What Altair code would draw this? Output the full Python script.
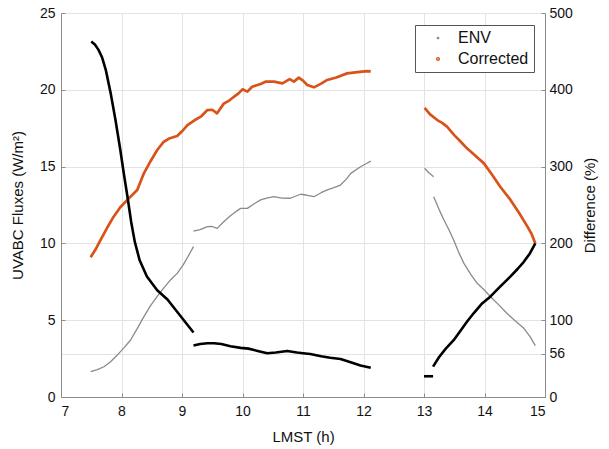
import altair as alt
import pandas as pd

# ---- data ----
# ENV (gray), left axis W/m^2, four segments
env_x1 = [7.49, 7.60, 7.71, 7.82, 7.93, 8.04, 8.15, 8.26, 8.37, 8.48, 8.59, 8.70, 8.81, 8.92, 9.02, 9.10, 9.19]
env_y1 = [1.65, 1.78, 1.97, 2.30, 2.73, 3.20, 3.71, 4.45, 5.23, 5.95, 6.55, 7.10, 7.62, 8.05, 8.60, 9.15, 9.79]
env_x2 = [9.19, 9.30, 9.42, 9.50, 9.58, 9.69, 9.80, 9.90, 9.97, 10.08, 10.20, 10.30, 10.40, 10.52, 10.65, 10.79, 10.96, 11.05, 11.18, 11.30, 11.40, 11.50, 11.62, 11.72, 11.79, 11.95, 12.05, 12.12]
env_y2 = [10.80, 10.90, 11.09, 11.10, 10.98, 11.41, 11.80, 12.10, 12.28, 12.28, 12.60, 12.83, 12.95, 13.04, 12.95, 12.94, 13.20, 13.15, 13.04, 13.30, 13.48, 13.62, 13.80, 14.20, 14.56, 14.99, 15.20, 15.36]
env_x3 = [13.01, 13.08, 13.16]
env_y3 = [14.89, 14.60, 14.34]
env_x4 = [13.16, 13.25, 13.33, 13.41, 13.49, 13.57, 13.66, 13.77, 13.88, 14.00, 14.10, 14.24, 14.37, 14.51, 14.65, 14.75, 14.84]
env_y4 = [13.04, 12.20, 11.52, 10.90, 10.22, 9.45, 8.70, 8.00, 7.40, 6.95, 6.53, 5.98, 5.45, 4.95, 4.47, 3.95, 3.34]

# Corrected (orange), left axis W/m^2, two segments
cor_x1 = [7.49, 7.57, 7.65, 7.76, 7.87, 7.98, 8.12, 8.26, 8.37, 8.48, 8.59, 8.70, 8.80, 8.92, 9.00, 9.09, 9.20, 9.31, 9.42, 9.50, 9.58, 9.69, 9.78, 9.86, 9.93, 10.00, 10.08, 10.16, 10.30, 10.38, 10.52, 10.66, 10.78, 10.85, 10.93, 11.00, 11.07, 11.18, 11.30, 11.40, 11.55, 11.73, 11.90, 12.06, 12.12]
cor_y1 = [9.10, 9.60, 10.20, 11.00, 11.74, 12.35, 12.93, 13.48, 14.56, 15.35, 16.08, 16.62, 16.85, 16.99, 17.30, 17.70, 18.00, 18.25, 18.68, 18.70, 18.47, 19.10, 19.30, 19.55, 19.75, 20.03, 19.88, 20.20, 20.38, 20.53, 20.53, 20.42, 20.70, 20.53, 20.79, 20.60, 20.31, 20.16, 20.40, 20.64, 20.80, 21.07, 21.15, 21.22, 21.20]
cor_x2 = [13.01, 13.10, 13.22, 13.30, 13.38, 13.50, 13.60, 13.71, 13.85, 13.99, 14.12, 14.26, 14.43, 14.57, 14.71, 14.78, 14.84]
cor_y2 = [18.83, 18.40, 18.03, 17.85, 17.60, 17.05, 16.65, 16.19, 15.70, 15.21, 14.50, 13.69, 12.83, 12.00, 11.09, 10.60, 10.00]

# Difference (black), right axis %, four segments
dif_x1 = [7.50, 7.56, 7.62, 7.68, 7.74, 7.82, 7.90, 7.98, 8.04, 8.10, 8.16, 8.22, 8.30, 8.42, 8.59, 8.76, 8.90, 9.05, 9.19]
dif_y1 = [463, 459, 452, 442, 426, 396, 361, 322, 290, 260, 228, 202, 178, 157, 139, 127, 113, 98, 84]
dif_x2 = [9.19, 9.30, 9.42, 9.53, 9.65, 9.80, 9.97, 10.10, 10.25, 10.41, 10.55, 10.74, 10.90, 11.00, 11.12, 11.30, 11.45, 11.62, 11.80, 11.95, 12.12]
dif_y2 = [67, 69, 70, 70, 69, 66, 64, 63, 60, 57, 58, 60, 58, 57, 56, 53, 51, 49.5, 45, 41, 38]
dif_x3 = [13.00, 13.15]
dif_y3 = [27, 27]
dif_x4 = [13.15, 13.25, 13.36, 13.49, 13.60, 13.71, 13.82, 13.95, 14.10, 14.25, 14.43, 14.55, 14.65, 14.75, 14.84]
dif_y4 = [39.5, 52, 63, 74, 86, 98, 109, 121, 131, 143, 157, 167, 176, 187, 200]

series_names = ["ENV", "Corrected"]
series_colors = ["#8a8a8a", "#D95319"]

def seg(xs, ys, name, sid):
    return pd.DataFrame({"x": xs, "y": ys, "series": name, "seg": sid})

flux = pd.concat([
    seg(env_x1, env_y1, "ENV", "e1"), seg(env_x2, env_y2, "ENV", "e2"),
    seg(env_x3, env_y3, "ENV", "e3"), seg(env_x4, env_y4, "ENV", "e4"),
    seg(cor_x1, cor_y1, "Corrected", "c1"), seg(cor_x2, cor_y2, "Corrected", "c2"),
])
diff = pd.concat([
    seg(dif_x1, dif_y1, "Difference", "d1"), seg(dif_x2, dif_y2, "Difference", "d2"),
    seg(dif_x3, dif_y3, "Difference", "d3"), seg(dif_x4, dif_y4, "Difference", "d4"),
])

FONT = "Liberation Sans"
AX = "#8c8c8c"
TXT = "#111111"
GRID = "#e3e3e3"

xenc = alt.X("x:Q", scale=alt.Scale(domain=[7, 15], nice=False, zero=False),
             axis=alt.Axis(values=list(range(7, 16)), format="d", title="LMST (h)", grid=True,
                           labelFontSize=14, titleFontSize=15, titleFontWeight="normal",
                           labelPadding=11, titlePadding=11, tickSize=alt.ExprRef(expr="-4"),
                           tickColor=AX, domainColor=AX, labelColor=TXT,
                           titleColor=TXT, gridColor=GRID, labelFont=FONT, titleFont=FONT))

flux_layer = alt.Chart(flux).mark_line(strokeJoin="round").encode(
    x=xenc,
    y=alt.Y("y:Q", scale=alt.Scale(domain=[0, 25], nice=False),
            axis=alt.Axis(values=[0, 5, 10, 15, 20, 25], title="UVABC Fluxes (W/m²)", grid=True,
                          labelFontSize=14, titleFontSize=15, titleFontWeight="normal",
                          labelPadding=10, titlePadding=14, tickSize=alt.ExprRef(expr="-4"),
                          tickColor=AX, domainColor=AX, labelColor=TXT, titleColor=TXT,
                          gridColor=GRID, labelFont=FONT, titleFont=FONT)),
    color=alt.Color("series:N", scale=alt.Scale(domain=series_names, range=series_colors),
                    legend=alt.Legend(orient="none", legendX=354, legendY=12, title=None,
                                      labelFontSize=16, labelFont=FONT, labelColor=TXT,
                                      symbolType="circle", symbolSize=2,
                                      strokeColor="#555", fillColor="white",
                                      padding=5, rowPadding=5, symbolOffset=10, labelOffset=12)),
    strokeWidth=alt.StrokeWidth("series:N", scale=alt.Scale(domain=series_names, range=[1.3, 2.7]),
                                legend=None),
    detail="seg:N",
)

diff_layer = alt.Chart(diff).mark_line(color="black", strokeWidth=2.6, strokeJoin="round").encode(
    x=alt.X("x:Q", scale=alt.Scale(domain=[7, 15], nice=False, zero=False)),
    y=alt.Y("y:Q", scale=alt.Scale(domain=[0, 500], nice=False),
            axis=alt.Axis(orient="right", values=[0, 56, 100, 200, 300, 400, 500],
                          title="Difference (%)", titleAngle=270, grid=True,
                          labelFontSize=14, titleFontSize=15, titleFontWeight="normal",
                          labelPadding=8, titlePadding=25, tickSize=alt.ExprRef(expr="-4"),
                          tickColor=AX, domainColor=AX, labelColor=TXT, titleColor=TXT,
                          gridColor=GRID, labelFont=FONT, titleFont=FONT)),
    detail="seg:N",
)

chart = alt.layer(flux_layer, diff_layer).resolve_scale(y="independent").properties(
    width=484, height=384,
    autosize=alt.AutoSizeParams(type="none"),
    padding={"left": 61, "top": 13, "right": 64, "bottom": 52},
    background="white",
).configure_view(stroke=AX, strokeWidth=1)

chart.save("out.html", embed_options={"renderer": "svg", "actions": False})
